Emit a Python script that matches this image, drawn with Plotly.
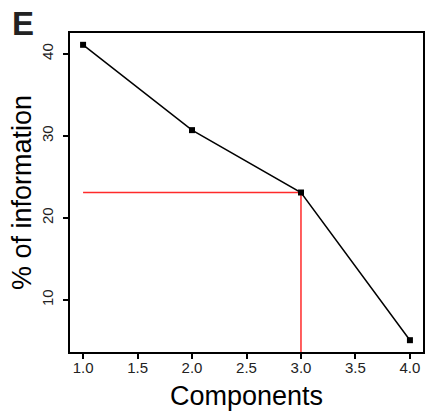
import plotly.graph_objects as go

components = [1, 2, 3, 4]
info_pct = [41.1, 30.7, 23.1, 5.1]
chosen_component = 3
chosen_value = 23.1
x_ticks = [1.0, 1.5, 2.0, 2.5, 3.0, 3.5, 4.0]
x_ticklabels = ["1.0", "1.5", "2.0", "2.5", "3.0", "3.5", "4.0"]
y_ticks = [10, 20, 30, 40]

# R-style 4% range extension
def ext(vals):
    lo, hi = min(vals), max(vals)
    d = (hi - lo) * 0.04
    return [lo - d, hi + d]

xr = ext(components)
yr = ext(info_pct)

W, H = 426, 416
ML, MR, MT, MB = 70, 1, 33, 64
PW, PH = W - ML - MR, H - MT - MB

fig = go.Figure()
fig.add_trace(go.Scatter(
    x=[components[0], chosen_component], y=[chosen_value, chosen_value],
    mode="lines", line=dict(color="#ff2a2a", width=1.5), hoverinfo="skip"))
fig.add_trace(go.Scatter(
    x=[chosen_component, chosen_component], y=[chosen_value, yr[0]],
    mode="lines", line=dict(color="#ff2a2a", width=1.5), hoverinfo="skip"))
fig.add_trace(go.Scatter(
    x=components, y=info_pct, mode="lines+markers",
    line=dict(color="black", width=1.5),
    marker=dict(symbol="square", size=6, color="black")))

font_family = "Liberation Sans, Arial, sans-serif"
fig.update_layout(
    width=W, height=H,
    margin=dict(l=ML, r=MR, t=MT, b=MB),
    paper_bgcolor="white", plot_bgcolor="white",
    showlegend=False,
    font=dict(family=font_family, color="black"),
    xaxis=dict(range=xr, tickvals=x_ticks, ticktext=x_ticklabels,
               showgrid=False, zeroline=False, showline=True, mirror=True,
               linecolor="black", linewidth=1.5, ticks="outside", ticklen=5,
               tickwidth=1.5, tickcolor="black", ticklabelstandoff=-4,
               tickfont=dict(size=15, color="#222"),
               title=dict(text="Components", font=dict(size=27), standoff=11)),
    yaxis=dict(range=yr, tickvals=y_ticks, tickangle=-90,
               showgrid=False, zeroline=False, showline=True, mirror=True,
               linecolor="black", linewidth=1.5, ticks="outside", ticklen=5,
               tickwidth=1.5, tickcolor="black", ticklabelstandoff=4,
               tickfont=dict(size=15, color="#222"),
               title=dict(text="% of information", font=dict(size=27), standoff=0)),
)
fig.add_annotation(text="<b>E</b>", xref="paper", yref="paper",
                   x=(10 - ML) / PW, y=1 + (MT - 24) / PH,
                   xanchor="left", yanchor="middle", showarrow=False,
                   font=dict(size=33, color="#222", family=font_family))

fig.write_html("out.html",
               config={"displayModeBar": False},
               post_script="document.body.style.margin='0';document.body.style.overflow='hidden';")
